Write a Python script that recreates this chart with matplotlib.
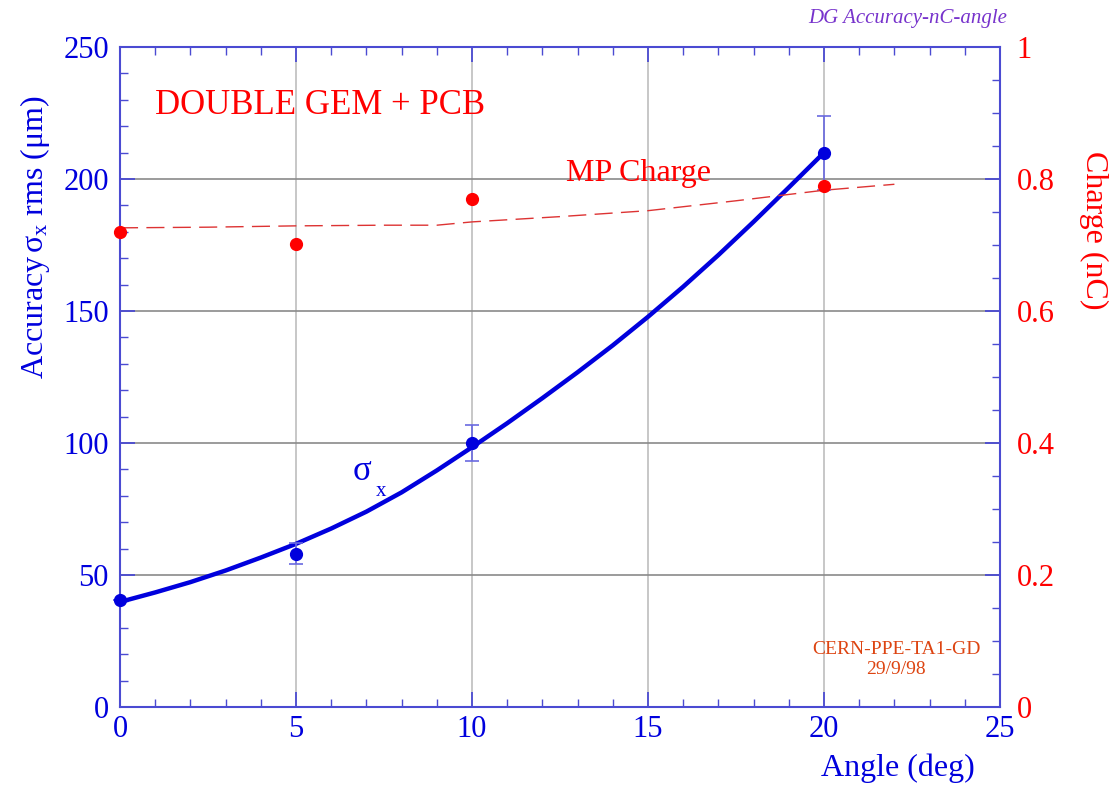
import numpy as np
import matplotlib
matplotlib.use("Agg")
import matplotlib.pyplot as plt
from matplotlib.ticker import MultipleLocator

plt.rcParams['font.family'] = ['Liberation Serif', 'DejaVu Serif']
plt.rcParams['mathtext.fontset'] = 'custom'
plt.rcParams['mathtext.rm'] = 'Liberation Serif'
plt.rcParams['mathtext.it'] = 'Liberation Serif:italic'

# measured resolution vs. angle
angle = [0, 5, 10, 20]
sigma = [40.5, 58, 100, 210]
sigma_err = [0, 4, 7, 14]

# fitted resolution curve
fit_angle = list(range(0, 21))
fit_sigma = [39.8, 43.4, 47.3, 51.7, 56.6, 61.8, 67.6, 74.0, 81.3, 89.6, 98.4,
             107.5, 117.0, 126.8, 137.0, 147.8, 159.2, 171.2, 183.8, 196.8, 210.0]

# most probable charge
charge = [0.720, 0.702, 0.770, 0.789]
mp_angle = [0, 2.5, 5, 7.5, 9, 10, 12.5, 15, 17.5, 20, 22]
mp_charge = [0.726, 0.727, 0.729, 0.730, 0.730, 0.735, 0.743, 0.752, 0.767, 0.783, 0.792]

BLUE = '#0000dd'
RED = '#ff0000'
AXCOL = '#4b4bd2'

W, H = 1112, 788
X0, Y0, PX, PY = 120, 707, 35.2, 2.64   # pixel origin and pixels per unit


def dx(px):
    return (px - X0) / PX


def dy(py):
    return (Y0 - py) / PY


fig = plt.figure(figsize=(W / 100, H / 100), dpi=100)
ax = fig.add_axes([120 / W, 81 / H, 880 / W, 660 / H])
ax2 = ax.twinx()

ax.set_xlim(0, 25)
ax.set_ylim(0, 250)
ax2.set_ylim(0, 1)

# grid
for gx in [5, 10, 15, 20]:
    ax.axvline(gx, color='#bdbdbd', lw=1.2, zorder=0)
for gy in [50, 100, 150, 200]:
    ax.axhline(gy, color='#8a8a8a', lw=1.2, zorder=0)

ax.plot(fit_angle, fit_sigma, color=BLUE, lw=3.2, zorder=3, solid_capstyle='round')
ax.errorbar(angle, sigma, yerr=sigma_err, fmt='o', color=BLUE, ms=8.5,
            ecolor='#6a6ae0', elinewidth=1.2, capsize=5, capthick=1.2,
            zorder=4, clip_on=False)

ax2.plot(mp_angle, mp_charge, color='#dd3333', lw=1.0, dashes=(13, 6), zorder=2)
ax2.plot(angle, charge, 'o', color=RED, ms=8.5, zorder=3, clip_on=False)

# axes styling
for side in ['left', 'right', 'top', 'bottom']:
    ax.spines[side].set_color(AXCOL)
    ax.spines[side].set_linewidth(1.5)
    ax2.spines[side].set_visible(False)

ax.xaxis.set_major_locator(MultipleLocator(5))
ax.xaxis.set_minor_locator(MultipleLocator(1))
ax.yaxis.set_major_locator(MultipleLocator(50))
ax.yaxis.set_minor_locator(MultipleLocator(10))
ax2.yaxis.set_major_locator(MultipleLocator(0.2))
ax2.yaxis.set_minor_locator(MultipleLocator(0.05))

ax.tick_params(axis='both', which='both', direction='in', color=AXCOL, top=True, right=False)
ax.tick_params(which='major', length=11, width=1.3)
ax.tick_params(which='minor', length=6, width=1.0)
ax.tick_params(axis='x', labelsize=22, labelcolor=BLUE, pad=6)
ax.tick_params(axis='y', labelsize=22, labelcolor=BLUE, pad=8)
ax2.tick_params(axis='y', which='both', direction='in', color=AXCOL, labelsize=22, labelcolor=RED, pad=12)
ax2.tick_params(which='major', length=11, width=1.3)
ax2.tick_params(which='minor', length=6, width=1.0)
ax2.set_yticks([0, 0.2, 0.4, 0.6, 0.8, 1.0])
ax2.set_yticklabels(['0', '0.2', '0.4', '0.6', '0.8', '1'])

# labels
fig.text(35 / W, 1 - 95 / H, r'Accuracy$\,\mathrm{\sigma}_\mathrm{x}$ rms ($\mathrm{\mu}$m)',
         rotation=90, ha='center', va='top', fontsize=23, color=BLUE)
fig.text(1094 / W, 1 - 230 / H, 'Charge (nC)', rotation=270, ha='center', va='center',
         fontsize=23, color=RED)
fig.text(975 / W, 1 - 768 / H, 'Angle (deg)', ha='right', va='center', fontsize=23, color=BLUE)
fig.text(1007 / W, 1 - 18 / H, 'DG Accuracy-nC-angle', ha='right', va='center',
         fontsize=15, style='italic', color='#7733cc')

ax.text(dx(155), dy(105), 'DOUBLE GEM + PCB', ha='left', va='center', fontsize=25, color=RED)
ax.text(dx(638), dy(173), 'MP Charge', ha='center', va='center', fontsize=23, color=RED)
ax.text(dx(362), dy(472), 'σ', ha='center', va='center', fontsize=25, color=BLUE)
ax.text(dx(381), dy(492), 'x', ha='center', va='center', fontsize=15, color=BLUE)
ax.text(dx(896), dy(650), 'CERN-PPE-TA1-GD', ha='center', va='center',
        fontsize=14, color='#dd4411')
ax.text(dx(896), dy(670), '29/9/98', ha='center', va='center',
        fontsize=14, color='#dd4411')

fig.savefig('out.png', dpi=100)
